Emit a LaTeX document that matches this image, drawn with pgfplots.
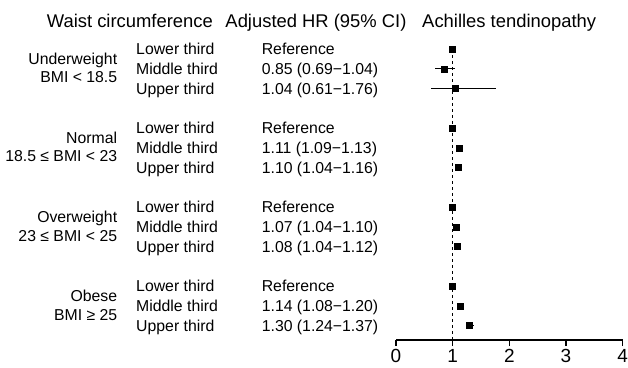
\documentclass[border=0pt]{standalone}
\usepackage{pgfplots}
\pgfplotsset{compat=1.18}
\usepackage{pgfplotstable}
\usepackage{fontspec}
\setmainfont{Liberation Sans}
\newcommand\rowf{\fontsize{15.8}{18}\selectfont}
\newcommand\hdf{\fontsize{18.4}{21}\selectfont}
\newcommand\tkf{\fontsize{19}{21}\selectfont}

\pgfplotstableread{
x    y    em   ep
1.00 -1   0    0
0.85 -2   0.16 0.19
1.04 -3   0.43 0.72
1.00 -5   0    0
1.11 -6   0.02 0.02
1.10 -7   0.06 0.06
1.00 -9   0    0
1.07 -10  0.03 0.03
1.08 -11  0.04 0.04
1.00 -13  0    0
1.14 -14  0.06 0.06
1.30 -15  0.06 0.07
}\hrdata

\begin{document}
\begin{tikzpicture}
\begin{axis}[
  scale only axis,
  width=226.68pt, height=340pt,
  xmin=0, xmax=4,
  ymin=-15.73, ymax=1.48,
  axis x line*=bottom,
  axis y line=none,
  axis line style={line width=1.2pt, -},
  xtick={0,1,2,3,4},
  ytick=\empty,
  tick align=outside,
  major tick length=6pt,
  tick style={line width=1.2pt, black},
  xticklabel style={font=\tkf, inner sep=0pt, anchor=base, yshift=-16.5pt},
  /pgf/number format/assume math mode=true,
  clip=false,
  every node/.append style={inner sep=0pt, text=black},
]
\addplot[black, line width=1pt, dash pattern=on 3pt off 3pt] coordinates {(1,-1) (1,-15.73)};
\addplot[only marks, black, mark=square*, mark size=3pt,
  error bars/.cd, x dir=both, x explicit,
  error bar style={line width=1.3pt}, error mark=none]
  table[x=x, y=y, x error minus=em, x error plus=ep] {\hrdata};

% headers
\node[anchor=base, font=\hdf] at (axis cs:-4.697,0.10) {Waist circumference};
\node[anchor=base, font=\hdf] at (axis cs:-1.412,0.10) {Adjusted HR (95\% CI)};
\node[anchor=base, font=\hdf] at (axis cs:1.997,0.10) {Achilles tendinopathy};

% group labels
\node[anchor=base east, font=\rowf] at (axis cs:-4.858,-1.80) {Underweight};
\node[anchor=base east, font=\rowf] at (axis cs:-4.858,-2.72) {BMI < 18.5};
\node[anchor=base east, font=\rowf] at (axis cs:-4.858,-5.80) {Normal};
\node[anchor=base east, font=\rowf] at (axis cs:-4.858,-6.72) {18.5 ≤ BMI < 23};
\node[anchor=base east, font=\rowf] at (axis cs:-4.858,-9.80) {Overweight};
\node[anchor=base east, font=\rowf] at (axis cs:-4.858,-10.72) {23 ≤ BMI < 25};
\node[anchor=base east, font=\rowf] at (axis cs:-4.858,-13.80) {Obese};
\node[anchor=base east, font=\rowf] at (axis cs:-4.858,-14.72) {BMI ≥ 25};

% row labels
\pgfplotsinvokeforeach{1.3,5.3,9.3,13.3}{
  \node[anchor=base west, font=\rowf] at (axis cs:-4.646,-#1) {Lower third};
  \node[anchor=base west, font=\rowf] at (axis cs:-2.430,-#1) {Reference};
}
\pgfplotsinvokeforeach{2.3,6.3,10.3,14.3}{
  \node[anchor=base west, font=\rowf] at (axis cs:-4.646,-#1) {Middle third};
}
\pgfplotsinvokeforeach{3.3,7.3,11.3,15.3}{
  \node[anchor=base west, font=\rowf] at (axis cs:-4.646,-#1) {Upper third};
}
\node[anchor=base west, font=\rowf] at (axis cs:-2.430,-2.3) {0.85 (0.69−1.04)};
\node[anchor=base west, font=\rowf] at (axis cs:-2.430,-3.3) {1.04 (0.61−1.76)};
\node[anchor=base west, font=\rowf] at (axis cs:-2.430,-6.3) {1.11 (1.09−1.13)};
\node[anchor=base west, font=\rowf] at (axis cs:-2.430,-7.3) {1.10 (1.04−1.16)};
\node[anchor=base west, font=\rowf] at (axis cs:-2.430,-10.3) {1.07 (1.04−1.10)};
\node[anchor=base west, font=\rowf] at (axis cs:-2.430,-11.3) {1.08 (1.04−1.12)};
\node[anchor=base west, font=\rowf] at (axis cs:-2.430,-14.3) {1.14 (1.08−1.20)};
\node[anchor=base west, font=\rowf] at (axis cs:-2.430,-15.3) {1.30 (1.24−1.37)};

\coordinate (bbA) at (axis cs:-6.988,1.48);
\coordinate (bbB) at (axis cs:4.0936,-17.097);
\end{axis}
\pgfresetboundingbox
\useasboundingbox (bbA) rectangle (bbB);
\end{tikzpicture}
\end{document}
